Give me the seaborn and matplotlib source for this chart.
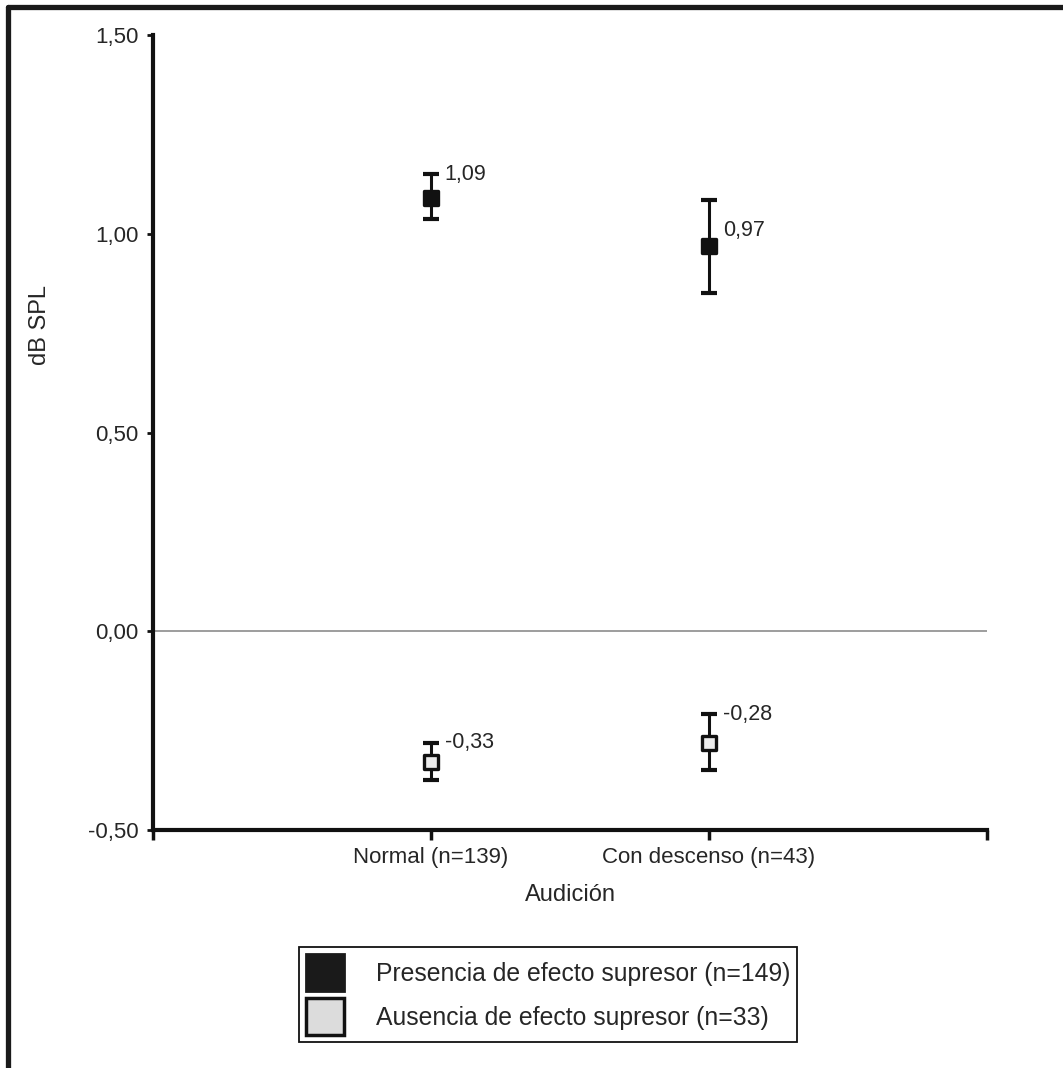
import numpy as np
import pandas as pd
import matplotlib
matplotlib.use('Agg')
import matplotlib.pyplot as plt
from matplotlib.patches import Patch
from matplotlib.lines import Line2D
import seaborn as sns

# datos
categorias = ['Normal (n=139)', 'Con descenso (n=43)']
grupos = ['Presencia de efecto supresor (n=149)', 'Ausencia de efecto supresor (n=33)']

presencia_media = [1.09, 0.97]
presencia_inf = [1.038, 0.851]
presencia_sup = [1.150, 1.085]

ausencia_media = [-0.33, -0.28]
ausencia_inf = [-0.374, -0.349]
ausencia_sup = [-0.281, -0.209]

y_ticks = [-0.50, 0.00, 0.50, 1.00, 1.50]

sns.set_theme(style='ticks')
plt.rcParams['font.family'] = ['Liberation Sans', 'DejaVu Sans']

texto = '#262626'

fig = plt.figure(figsize=(10.63, 10.68), dpi=100)
ax = fig.add_axes([0.1439, 0.2228, 0.7846, 0.7444])

pos = np.arange(1, len(categorias) + 1)
series = [
    (presencia_media, presencia_inf, presencia_sup, '#111111'),
    (ausencia_media, ausencia_inf, ausencia_sup, '#ececec'),
]
# desplazamiento vertical de las etiquetas (puntos)
label_dy = [[0, -22], [0, 0]]

ax.axhline(0, color='#8c8c8c', lw=1.2, zorder=1)

for i, (media, inf, sup, cara) in enumerate(series):
    media = np.array(media)
    err = np.vstack([media - np.array(inf), np.array(sup) - media])
    ax.errorbar(pos, media, yerr=err, fmt='none', ecolor='#111111',
                elinewidth=2.2, capsize=5.5, capthick=3, zorder=2)
    df = pd.DataFrame({'pos': pos, 'media': media})
    sns.scatterplot(data=df, x='pos', y='media', marker='s', s=105,
                    color=cara, edgecolor='#111111', linewidth=2.4,
                    ax=ax, zorder=3, legend=False)
    for j in range(len(pos)):
        ax.annotate(f'{media[j]:.2f}'.replace('.', ','), xy=(pos[j], sup[j]),
                    xytext=(10, label_dy[i][j]), textcoords='offset points',
                    ha='left', va='center', fontsize=15.5, color=texto)

ax.set_xlim(0, len(categorias) + 1)
ax.set_ylim(-0.5, 1.5)
ax.set_xticks(np.arange(0, len(categorias) + 2))
ax.set_xticklabels([''] + categorias + [''])
ax.set_yticks(y_ticks)
ax.set_yticklabels([f'{v:.2f}'.replace('.', ',') for v in y_ticks])

ax.spines['top'].set_visible(False)
ax.spines['right'].set_visible(False)
for s in ['left', 'bottom']:
    ax.spines[s].set_linewidth(3)
    ax.spines[s].set_color('#111111')

ax.tick_params(axis='y', direction='out', length=4.5, width=2, pad=6,
               labelsize=16, labelcolor=texto, color='#111111')
ax.tick_params(axis='x', direction='out', length=7, width=2.5, pad=5,
               labelsize=16, labelcolor=texto, color='#111111')

ax.set_xlabel('Audición', fontsize=17, color=texto, labelpad=12)
ax.set_ylabel('dB SPL', fontsize=17, color=texto)
ax.yaxis.set_label_coords(-0.122, 0.635)
ax.set_facecolor('white')
ax.grid(False)

# leyenda
handles = [
    Patch(facecolor='#1a1a1a', edgecolor='#1a1a1a', linewidth=2),
    Patch(facecolor='#dcdcdc', edgecolor='#111111', linewidth=2.5),
]
leg = fig.legend(handles=handles, labels=grupos, loc='upper left',
                 bbox_to_anchor=(299 / 1063, 1 - 947 / 1068),
                 frameon=True, fancybox=False, framealpha=1, edgecolor='#111111',
                 borderpad=0.3, handlelength=1.5, handleheight=1.9,
                 handletextpad=1.3, labelspacing=0.3, borderaxespad=0,
                 fontsize=17.8, labelcolor=texto)
leg.get_frame().set_linewidth(1.3)

# marco exterior (solo arriba e izquierda)
fig.add_artist(Line2D([0.0075, 1.0], [0.9935, 0.9935], transform=fig.transFigure,
                      color='#1a1a1a', lw=3.8))
fig.add_artist(Line2D([0.0075, 0.0075], [0.0, 0.9935], transform=fig.transFigure,
                      color='#1a1a1a', lw=3.8))

fig.savefig('out.png', dpi=100, facecolor='white')
plt.close(fig)
